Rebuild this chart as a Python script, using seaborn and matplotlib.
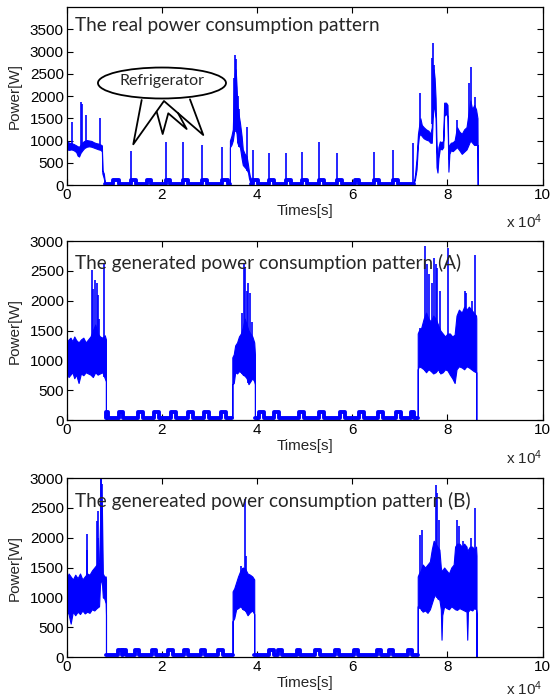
import numpy as np
import pandas as pd
import seaborn as sns
import matplotlib.pyplot as plt
from matplotlib.patches import Ellipse

sns.set_style("ticks")
plt.rcParams["font.family"] = ["Liberation Sans", "DejaVu Sans"]
plt.rcParams["mathtext.default"] = "regular"

BLUE = "#0000ff"

# ---------------- real pattern ----------------
real_b1_t = [0, 500, 1000, 1500, 2000, 2300, 2600, 2900, 3300, 3700, 4200, 4700, 5200, 5700, 6200, 6700, 7100, 7400, 7500, 7800, 8000]
real_b1_lo = [800, 790, 800, 780, 740, 660, 640, 720, 780, 830, 860, 870, 860, 840, 820, 800, 790, 760, 260, 150, 30]
real_b1_hi = [1000, 950, 940, 920, 890, 870, 860, 900, 960, 990, 1010, 1000, 990, 960, 940, 930, 910, 890, 330, 260, 90]

real_b2_t = [34300, 34300, 34600, 34900, 35100, 35300, 35500, 35700, 35850, 36100, 36400, 36750, 37000, 37400, 37800, 38100, 38300, 38500, 38700, 38700]
real_b2_lo = [30, 850, 900, 1000, 1150, 1300, 1250, 1150, 950, 880, 850, 600, 450, 400, 350, 280, 150, 80, 60, 30]
real_b2_hi = [30, 1000, 1100, 1250, 2000, 2500, 2600, 2200, 1800, 1600, 1400, 1100, 800, 700, 650, 450, 300, 190, 150, 30]

real_b3_t = [72900, 73200, 73500, 73800, 74000, 74300, 74600, 75000, 75500, 76000, 76400, 76700, 76900, 77100,
             77300, 77500, 77700, 77900, 78100, 78400, 78800, 79100, 79300, 79700, 80000, 80200, 80400, 80700,
             81100, 81500, 82000, 82500, 83000, 83500, 84000, 84400, 84800, 85200, 85600, 86000, 86300, 86350]
real_b3_lo = [30, 150, 350, 900, 1100, 1150, 1100, 1050, 1020, 1000, 950, 950, 1500, 1800,
              1700, 1500, 400, 280, 600, 820, 800, 850, 1550, 1600, 1550, 300, 700, 780,
              760, 800, 850, 780, 700, 750, 800, 900, 1000, 950, 900, 900, 900, 0]
real_b3_hi = [30, 250, 600, 1150, 1300, 1500, 1350, 1300, 1250, 1220, 1150, 1300, 2300, 2600,
              2400, 1950, 900, 500, 850, 980, 960, 1000, 1850, 1850, 1800, 600, 900, 950,
              960, 1000, 1300, 1200, 1150, 1250, 1300, 1600, 1900, 1700, 1800, 1700, 1500, 0]

real_peak_t = [1190, 3010, 3290, 4060, 7000, 13440, 20790, 24500, 28490, 32600, 35150, 35350, 35600, 35900,
               36300, 37940, 39200, 42600, 46100, 49500, 53100, 56800, 64600, 68600, 72750, 74300, 76850,
               77050, 77250, 82000, 84600, 84900, 85750]
real_peak_p = [1420, 1870, 1820, 1570, 1500, 770, 960, 960, 890, 850, 2400, 2920, 2840, 2000,
               1700, 1310, 790, 730, 730, 740, 975, 730, 750, 780, 945, 2070, 2850,
               3190, 2700, 1470, 2300, 2660, 1985]

real_fridge_1 = [(9800, 11000), (13440, 14500), (16800, 17800), (20790, 21800), (24500, 25500),
                 (28490, 29500), (32600, 33900)]
real_fridge_2 = [(39200, 40200), (42600, 43600), (46100, 47100), (49500, 50500), (53100, 54100),
                 (56800, 57800), (60500, 61500), (64600, 65600), (68600, 69600)]

# ---------------- generated pattern (A) ----------------
a_b1_t = [0, 400, 800, 1200, 1600, 2000, 2500, 3000, 3500, 4000, 4500, 5000, 5500, 6000, 6500, 7000, 7500, 8000, 8250, 8250]
a_b1_lo = [800, 720, 760, 800, 700, 760, 620, 780, 750, 800, 780, 760, 720, 800, 760, 780, 800, 700, 650, 120]
a_b1_hi = [1300, 1350, 1380, 1320, 1400, 1340, 1300, 1350, 1380, 1300, 1350, 1400, 1500, 1600, 1450, 1400, 1380, 1420, 1350, 120]

a_b2_t = [34800, 34800, 35100, 35400, 35800, 36200, 36600, 37000, 37400, 37800, 38200, 38600, 39000, 39400, 39550, 39550]
a_b2_lo = [40, 600, 620, 800, 780, 820, 800, 760, 740, 700, 600, 650, 700, 650, 600, 40]
a_b2_hi = [40, 1050, 1100, 1250, 1300, 1400, 1450, 1550, 1700, 1600, 1500, 1450, 1400, 1300, 1100, 40]

a_b3_t = [73750, 73750, 74000, 74500, 75000, 75500, 76000, 76500, 77000, 77500, 78000, 78500, 79000, 79500, 80000,
          80500, 81000, 81500, 81900, 82400, 83000, 83500, 84000, 84500, 85000, 85500, 86000, 86050, 86050]
a_b3_lo = [40, 850, 900, 880, 850, 800, 850, 820, 780, 800, 850, 780, 800, 850, 830,
           760, 700, 620, 850, 900, 880, 850, 900, 880, 850, 820, 800, 800, 0]
a_b3_hi = [40, 1450, 1500, 1550, 1700, 1800, 1700, 1650, 1750, 1700, 1600, 1500, 1450, 1400, 1450,
           1450, 1400, 1430, 1750, 1850, 1800, 1900, 1850, 1900, 1850, 1800, 1750, 1700, 0]

a_peak_t = [5250, 5460, 5950, 6300, 6500, 6800, 7900, 36900, 37300, 37450, 37800, 38150, 38500, 38850,
            74300, 75300, 75660, 76100, 76700, 77100, 77500, 77870, 78420, 80010, 83600, 83950, 85100, 85800]
a_peak_p = [2520, 2200, 2350, 2300, 2100, 1700, 2630, 1800, 2610, 2550, 2160, 2300, 2130, 1650,
            1550, 2920, 2610, 2445, 2300, 2720, 2610, 2550, 2160, 2890, 2160, 2130, 2000, 2770]

a_fridge_1 = [(8250, 8700), (11060, 11760), (14900, 15960), (18400, 19400), (21900, 22960),
              (25400, 26460), (28900, 29960), (32340, 33400)]
a_fridge_2 = [(40460, 41440), (43600, 44600), (48750, 49800), (53100, 54100), (57400, 58400),
              (61500, 62550), (65500, 66500), (69250, 70150), (72350, 73050)]

# ---------------- generated pattern (B) ----------------
b_b1_t = [0, 400, 840, 1300, 1800, 2300, 2800, 3300, 3800, 4300, 4800, 5300, 5800, 6300, 6800, 7000, 7200,
          7400, 7600, 7900, 8200, 8260, 8260]
b_b1_lo = [780, 720, 560, 760, 700, 760, 720, 780, 730, 760, 740, 800, 780, 820, 850, 1200, 1300,
           1250, 1000, 980, 900, 700, 28]
b_b1_hi = [1300, 1400, 1350, 1300, 1380, 1320, 1400, 1300, 1350, 1400, 1380, 1450, 1500, 1550, 1600, 2200, 2800,
           2500, 1400, 1350, 1350, 1300, 28]

b_b2_t = [34860, 34860, 35200, 35600, 36000, 36500, 37000, 37500, 38000, 38500, 39000, 39400, 39400]
b_b2_lo = [28, 600, 650, 800, 820, 850, 800, 780, 700, 750, 780, 720, 28]
b_b2_hi = [28, 1100, 1150, 1250, 1350, 1450, 1500, 1480, 1400, 1380, 1350, 1300, 28]

b_b3_t = [73750, 73750, 74000, 74400, 74800, 75300, 75800, 76300, 76700, 77100, 77500, 77900, 78300, 78600,
          78750, 78900, 79300, 79800, 80300, 80800, 81300, 81600, 82000, 82500, 83000, 83500, 84000,
          84150, 84300, 84700, 85200, 85600, 86000, 86100, 86100]
b_b3_lo = [28, 850, 850, 800, 760, 780, 740, 800, 900, 1000, 1050, 980, 960, 800,
           290, 700, 850, 820, 800, 850, 820, 800, 790, 820, 800, 780, 760,
           290, 760, 800, 780, 820, 800, 700, 0]
b_b3_hi = [28, 1350, 1400, 1450, 1550, 1500, 1550, 1600, 1800, 1950, 1900, 1850, 1800, 1500,
           1450, 1450, 1500, 1450, 1400, 1500, 1550, 1850, 1900, 1900, 1850, 1900, 1850,
           1750, 1800, 1850, 1850, 1800, 1850, 1700, 0]

b_peak_t = [4200, 4340, 6300, 6500, 6650, 7150, 7250, 7350, 36540, 37100, 37450, 37660,
            74300, 74630, 77600, 77870, 78200, 82080, 82420, 83250, 84980, 85880]
b_peak_p = [2055, 1800, 2280, 2450, 2000, 3000, 3000, 2900, 1520, 1500, 2650, 1700,
            2050, 2135, 2890, 2750, 2300, 2300, 2200, 1950, 2000, 2500]

b_fridge_1 = [(10850, 11600), (11800, 12400), (14350, 15260), (17850, 18760), (21350, 22260),
              (24710, 25550), (28210, 29050), (31850, 32760)]
b_fridge_2 = [(42560, 43540), (44500, 45300), (48300, 49100), (52200, 53300), (56350, 57250),
              (60300, 61300), (65200, 66000), (67700, 68600), (71700, 72550)]

x_ticks = [0, 20000, 40000, 60000, 80000, 100000]
x_ticklabels = ["0", "2", "4", "6", "8", "10"]


def fridge_trace(t0, t1, base, top, pulses):
    t, p = [t0], [base]
    for s, e in pulses:
        t += [s, s, e, e]
        p += [base, top, top, base]
    t.append(t1)
    p.append(base)
    return pd.DataFrame({"t": t, "p": p})


def draw_panel(ax, bands, offs, peak_t, peak_p, base, top, ymax, title, title_y, exp_y):
    # active periods: dense noise drawn as a filled band
    for bt, blo, bhi in bands:
        ax.fill_between(bt, blo, bhi, color=BLUE, edgecolor=BLUE, lw=0.8)
    # idle periods with the refrigerator cycles
    for t0, t1, pulses in offs:
        df = fridge_trace(t0, t1, base, top, pulses)
        sns.lineplot(data=df, x="t", y="p", ax=ax, color=BLUE, lw=2.8,
                     estimator=None, sort=False)
    # spikes
    ymin = []
    for t in peak_t:
        lo = base
        for bt, blo, bhi in bands:
            if bt[0] <= t <= bt[-1]:
                lo = np.interp(t, bt, blo)
        ymin.append(lo)
    ax.vlines(peak_t, ymin, peak_p, color=BLUE, lw=1.2)

    ax.set_xlim(0, 100000)
    ax.set_ylim(0, ymax)
    ax.set_xticks(x_ticks)
    ax.set_xticklabels(x_ticklabels)
    ax.set_yticks(np.arange(0, ymax if ymax > 3000 else ymax + 1, 500))
    ax.tick_params(direction="in", top=True, right=True, length=4, width=0.8,
                   labelsize=11, pad=2, colors="black")
    for s in ax.spines.values():
        s.set_visible(True)
        s.set_color("black")
        s.set_linewidth(0.9)
    ax.set_xlabel("Times[s]", fontsize=11)
    ax.set_ylabel("Power[W]", fontsize=11)
    ax.xaxis.set_label_coords(0.5, -0.105)
    ax.xaxis.label.set_va("top")
    ax.yaxis.set_label_coords(-0.094, 0.5)
    ax.text(1.0, exp_y, r"x 10$^4$", transform=ax.transAxes, ha="right", va="center", fontsize=11)
    ax.text(0.018, title_y, title, transform=ax.transAxes, ha="left", va="top",
            fontsize=13.7, family=["Lato", "DejaVu Sans"])


fig = plt.figure(figsize=(5.57, 7.0), dpi=100)
ax1 = fig.add_axes([0.1197, 0.7357, 0.8546, 0.2543])
ax2 = fig.add_axes([0.1197, 0.4000, 0.8546, 0.2557])
ax3 = fig.add_axes([0.1197, 0.0614, 0.8546, 0.2557])

draw_panel(ax1,
           [(real_b1_t, real_b1_lo, real_b1_hi), (real_b2_t, real_b2_lo, real_b2_hi),
            (real_b3_t, real_b3_lo, real_b3_hi)],
           [(8000, 34300, real_fridge_1), (38700, 72900, real_fridge_2)],
           real_peak_t, real_peak_p, 30, 110, 4000,
           "The real power consumption pattern", 0.945, -0.205)
draw_panel(ax2,
           [(a_b1_t, a_b1_lo, a_b1_hi), (a_b2_t, a_b2_lo, a_b2_hi), (a_b3_t, a_b3_lo, a_b3_hi)],
           [(8250, 34800, a_fridge_1), (39550, 73750, a_fridge_2)],
           a_peak_t, a_peak_p, 40, 140, 3000,
           "The generated power consumption pattern (A)", 0.93, -0.21)
draw_panel(ax3,
           [(b_b1_t, b_b1_lo, b_b1_hi), (b_b2_t, b_b2_lo, b_b2_hi), (b_b3_t, b_b3_lo, b_b3_hi)],
           [(8260, 34860, b_fridge_1), (39400, 73750, b_fridge_2)],
           b_peak_t, b_peak_p, 28, 124, 3000,
           "The genereated power consumption pattern (B)", 0.925, -0.175)

# refrigerator callout
ax1.add_patch(Ellipse((0.2002, 0.573), 0.269, 0.174, transform=ax1.transAxes,
                      facecolor="white", edgecolor="black", lw=1.3, zorder=5))
ax1.text(0.2002, 0.585, "Refrigerator", transform=ax1.transAxes, ha="center", va="center",
         fontsize=11.5, family=["Lato", "DejaVu Sans"], zorder=6)


def to_ax(px, py):
    return ((px - 66.7) / 476.0, (185.0 - py) / 178.0)


pointer_outer = [to_ax(141.7, 100), to_ax(133.3, 144.3), to_ax(164, 101), to_ax(203.3, 135), to_ax(190, 99.3)]
pointer_inner = [to_ax(156.7, 111.7), to_ax(162.7, 134), to_ax(168.3, 113.3), to_ax(186.7, 129), to_ax(178, 113)]
for pts in (pointer_outer, pointer_inner):
    xs, ys = zip(*pts)
    ax1.plot(xs, ys, color="black", lw=1.3, transform=ax1.transAxes, zorder=6)

fig.savefig("out.png", dpi=100)
